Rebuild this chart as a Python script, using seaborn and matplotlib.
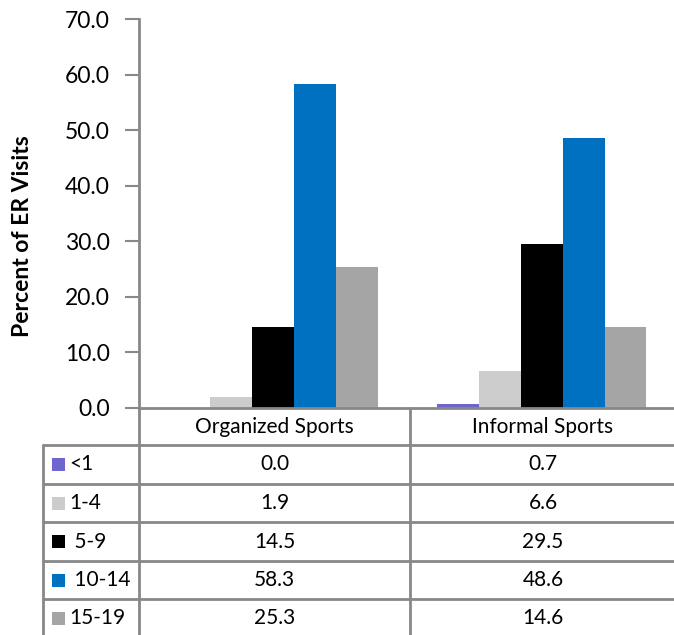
import matplotlib
matplotlib.use("Agg")
import matplotlib.pyplot as plt
from matplotlib.lines import Line2D
from matplotlib.patches import Rectangle
import seaborn as sns
import pandas as pd

# Share of ER visits by age group, for each sport setting
sports = ["Organized Sports", "Informal Sports"]
age_groups = ["<1", "1-4", " 5-9", " 10-14", "15-19"]
organized = [0.0, 1.9, 14.5, 58.3, 25.3]
informal = [0.7, 6.6, 29.5, 48.6, 14.6]
colors = ["#6D66CD", "#CCCCCC", "#000000", "#0070C0", "#A5A5A5"]
yticks = [0, 10, 20, 30, 40, 50, 60, 70]

rows = []
for g, o, i in zip(age_groups, organized, informal):
    rows.append({"sport": sports[0], "age": g, "pct": o})
    rows.append({"sport": sports[1], "age": g, "pct": i})
df = pd.DataFrame(rows)

sns.set_theme(style="white")
plt.rcParams["font.family"] = ["Lato", "DejaVu Sans"]

W, H = 674, 635
fig = plt.figure(figsize=(W / 100, H / 100), dpi=100)
ax = fig.add_axes([139 / W, 1 - 408 / H, 537 / W, 389 / H])

sns.barplot(data=df, x="sport", y="pct", hue="age", order=sports,
            hue_order=age_groups, palette=colors, width=0.78,
            saturation=1, ax=ax, legend=False, linewidth=0)

ax.set_xlim(-0.5, 1.5)
ax.set_ylim(0, 70)
ax.set_yticks(yticks)
ax.set_yticklabels([f"{v:.1f}" for v in yticks], fontsize=16.5, color="#000000")
ax.tick_params(axis="y", which="major", direction="out", length=10,
               width=1.5, color="#888888", pad=11, left=True)
ax.tick_params(axis="x", bottom=False, labelbottom=False)
ax.set_xlabel("")
ax.set_ylabel("Percent of ER Visits", fontsize=16.5, fontweight="bold",
              color="#000000")
ax.yaxis.set_label_coords(-0.197, 0.442)

for side in ["top", "right"]:
    ax.spines[side].set_visible(False)
for side in ["left", "bottom"]:
    ax.spines[side].set_color("#888888")
    ax.spines[side].set_linewidth(2)

# Data table beneath the plot, laid out in pixel units
def fx(x):
    return x / W

def fy(y):
    return 1 - y / H

line_kw = dict(color="#888888", linewidth=2, transform=fig.transFigure)
row_edges = [445, 484, 522, 561, 599, 637]
for y in row_edges[:-1]:
    fig.add_artist(Line2D([fx(43), fx(W)], [fy(y), fy(y)], **line_kw))
fig.add_artist(Line2D([fx(43), fx(43)], [fy(445), fy(H)], **line_kw))
fig.add_artist(Line2D([fx(139), fx(139)], [fy(408), fy(H)], **line_kw))
fig.add_artist(Line2D([fx(410), fx(410)], [fy(408), fy(H)], **line_kw))

col_centers = [274.5, 543]
for name, cx in zip(sports, col_centers):
    fig.text(fx(cx), fy(427), name, ha="center", va="center",
             fontsize=15, color="#000000")

for k, (g, c, o, i) in enumerate(zip(age_groups, colors, organized, informal)):
    cy = (row_edges[k] + row_edges[k + 1]) / 2
    fig.add_artist(Rectangle((fx(52), fy(cy + 6.5)), 13 / W, 13 / H,
                             facecolor=c, edgecolor="none",
                             transform=fig.transFigure))
    fig.text(fx(69), fy(cy), g, ha="left", va="center", fontsize=15,
             color="#000000")
    fig.text(fx(col_centers[0]), fy(cy), f"{o:.1f}", ha="center",
             va="center", fontsize=15, color="#000000")
    fig.text(fx(col_centers[1]), fy(cy), f"{i:.1f}", ha="center",
             va="center", fontsize=15, color="#000000")

fig.savefig("out.png", dpi=100)
